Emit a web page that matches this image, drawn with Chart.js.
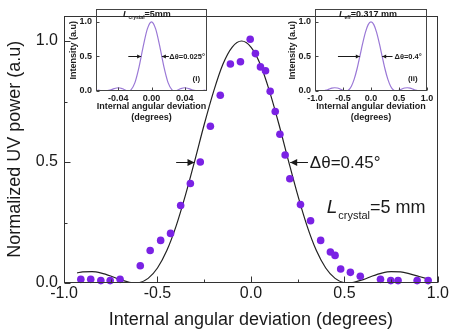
<!DOCTYPE html>
<html><head><meta charset="utf-8">
<script src="https://cdn.jsdelivr.net/npm/chart.js@4.4.1/dist/chart.umd.min.js"></script>
<style>
html,body{margin:0;padding:0;background:#fff;}
#wrap{position:relative;width:450px;height:333px;overflow:hidden;background:#fff;}
canvas{position:absolute;}
#main{left:0;top:0;}
#ins1{left:60px;top:0;}
#ins2{left:280px;top:0;}
</style></head><body>
<div id="wrap">
<canvas id="main" width="450" height="333"></canvas>
<canvas id="ins1" width="152" height="125"></canvas>
<canvas id="ins2" width="160" height="125"></canvas>
</div>
<script>
// ---------- data ----------
const measuredX = [-0.91,-0.857,-0.803,-0.753,-0.70,-0.592,-0.539,-0.483,-0.43,-0.376,-0.324,-0.271,-0.217,-0.164,-0.11,-0.056,-0.004,0.024,0.051,0.078,0.103,0.13,0.155,0.183,0.208,0.265,0.319,0.373,0.425,0.45,0.48,0.532,0.585,0.693,0.748,0.787,0.889,0.948];
const measuredY = [0.015,0.015,0.01,0.01,0.015,0.071,0.134,0.176,0.205,0.32,0.411,0.5,0.648,0.776,0.905,0.914,1.007,0.948,0.893,0.877,0.792,0.709,0.615,0.529,0.431,0.324,0.257,0.176,0.128,0.114,0.058,0.044,0.028,0.015,0.01,0.01,0.01,0.01];

const fitX = [-0.93,-0.9,-0.85,-0.8,-0.75,-0.7,-0.65,-0.62,-0.6,-0.55,-0.5,-0.45,-0.4,-0.35,-0.3,-0.25,-0.2,-0.15,-0.1,-0.05,0,0.05,0.1,0.15,0.2,0.25,0.3,0.35,0.4,0.45,0.5,0.52,0.55,0.6,0.65,0.7,0.75,0.8,0.85,0.9,0.95];
const fitY = [0.042,0.046,0.047,0.041,0.029,0.014,0.003,0,0.001,0.019,0.062,0.134,0.236,0.364,0.507,0.655,0.791,0.904,0.975,1.0,0.975,0.904,0.791,0.655,0.507,0.364,0.236,0.134,0.062,0.019,0.001,0,0.003,0.014,0.029,0.041,0.047,0.046,0.038,0.027,0.016];

const inset1X = [-0.065,-0.06,-0.056,-0.05,-0.045,-0.04,-0.035,-0.03,-0.028,-0.025,-0.02,-0.015,-0.01,-0.005,0,0.005,0.01,0.015,0.02,0.025,0.028,0.03,0.035,0.04,0.045,0.05,0.056,0.06,0.065];
const inset1Y = [0.014,0.004,0,0.012,0.035,0.047,0.032,0.004,0,0.014,0.121,0.349,0.645,0.899,1.0,0.899,0.645,0.349,0.121,0.014,0,0.004,0.032,0.047,0.035,0.012,0,0.004,0.014];

const inset2X = [-1.0,-0.95,-0.9,-0.85,-0.8,-0.75,-0.7,-0.65,-0.6,-0.55,-0.5,-0.45,-0.4,-0.35,-0.3,-0.25,-0.2,-0.15,-0.1,-0.05,0,0.05,0.1,0.15,0.2,0.25,0.3,0.35,0.4,0.45,0.5,0.55,0.6,0.65,0.7,0.75,0.8,0.85,0.9,0.95,1.0];
const inset2Y = [0.008,0.003,0,0.003,0.013,0.027,0.041,0.047,0.043,0.028,0.010,0,0.015,0.069,0.171,0.318,0.498,0.684,0.848,0.960,1.0,0.960,0.848,0.684,0.498,0.318,0.171,0.069,0.015,0,0.010,0.028,0.043,0.047,0.041,0.027,0.013,0.003,0,0.003,0.008];

const mainXTicks = [-1,-0.5,0,0.5,1];
const mainXLabels = ['-1.0','-0.5','0.0','0.5','1.0'];
const mainXMinor = [-0.75,-0.25,0.25,0.75];
const mainYTicks = [0,0.5,1];
const mainYLabels = ['0.0','0.5','1.0'];
const mainYMinor = [0.25,0.75];

const inset1XTicks = [-0.04,0,0.04];
const inset1XLabels = ['-0.04','0.00','0.04'];
const inset2XTicks = [-1,-0.5,0,0.5,1];
const inset2XLabels = ['-1.0','-0.5','0.0','0.5','1.0'];
const insetYTicks = [0,0.5,1];
const insetYLabels = ['0.0','0.5','1.0'];

// ---------- helpers ----------
const FONT = "'Liberation Sans', Arial, Helvetica, sans-serif";
const INK = '#1a1a1a';
const pts = (xs, ys) => xs.map((x, i) => ({x, y: ys[i]}));

function axis(o) {
  return {
    type: 'linear', min: o.min, max: o.max,
    afterBuildTicks: s => { s.ticks = o.ticks.map(v => ({value: v})); },
    afterFit: s => { if (o.h != null) s.height = o.h; if (o.w != null) s.width = o.w; },
    grid: {display: false, drawTicks: false},
    border: {display: false},
    ticks: {autoSkip: false, maxRotation: 0, minRotation: 0, padding: o.pad, color: INK, font: o.font,
      callback: v => o.labels[o.ticks.indexOf(v)]},
    title: {display: true, text: o.title, color: INK, font: o.tfont, padding: o.tpad}
  };
}

function arrow(ctx, x1, y, x2, head) {
  ctx.beginPath(); ctx.moveTo(x1, y); ctx.lineTo(x2, y); ctx.stroke();
  const d = Math.sign(x2 - x1);
  ctx.beginPath(); ctx.moveTo(x2, y);
  ctx.lineTo(x2 - d * head, y - head * 0.5);
  ctx.lineTo(x2 - d * head, y + head * 0.5);
  ctx.closePath(); ctx.fill();
}

const framePlugin = {
  id: 'frame',
  afterDatasetsDraw(chart, args, o) {
    const {ctx, chartArea: a, scales: {x, y}} = chart;
    ctx.save();
    ctx.strokeStyle = o.color; ctx.lineWidth = 1;
    const L = Math.round(a.left) + 0.5, R = Math.round(a.right) - 0.5;
    const T = Math.round(a.top) + 0.5, B = Math.round(a.bottom) - 0.5;
    ctx.strokeRect(L, T, R - L, B - T);
    ctx.beginPath();
    (o.xMajor || []).forEach(v => { const p = Math.round(x.getPixelForValue(v)) + 0.5; ctx.moveTo(p, B); ctx.lineTo(p, B - o.major); });
    (o.xMinor || []).forEach(v => { const p = Math.round(x.getPixelForValue(v)) + 0.5; ctx.moveTo(p, B); ctx.lineTo(p, B - o.minor); });
    (o.yMajor || []).forEach(v => { const p = Math.round(y.getPixelForValue(v)) + 0.5; ctx.moveTo(L, p); ctx.lineTo(L + o.major, p); });
    (o.yMinor || []).forEach(v => { const p = Math.round(y.getPixelForValue(v)) + 0.5; ctx.moveTo(L, p); ctx.lineTo(L + o.minor, p); });
    ctx.stroke();
    ctx.restore();
  }
};

const notesPlugin = {
  id: 'notes',
  afterDraw(chart, args, o) {
    const {ctx, scales: {x, y}} = chart;
    ctx.save();
    ctx.strokeStyle = INK; ctx.fillStyle = INK; ctx.lineWidth = 1;
    (o.arrows || []).forEach(a => {
      arrow(ctx, x.getPixelForValue(a.from), Math.round(y.getPixelForValue(a.y)) + 0.5, x.getPixelForValue(a.to), a.head);
    });
    (o.texts || []).forEach(t => {
      let px = x.getPixelForValue(t.x);
      const py = y.getPixelForValue(t.y);
      ctx.textBaseline = 'alphabetic';
      ctx.textAlign = 'left';
      t.parts.forEach(p => {
        ctx.font = p.font;
        ctx.fillText(p.t, px, py + (p.dy || 0));
        px += ctx.measureText(p.t).width + (p.gap || 0);
      });
    });
    ctx.restore();
  }
};

// ---------- main chart ----------
new Chart(document.getElementById('main'), {
  type: 'scatter',
  data: {datasets: [
    {data: pts(measuredX, measuredY), backgroundColor: '#7a22e4', borderColor: '#7a22e4',
     pointRadius: 3.8, pointBorderWidth: 0, clip: false},
    {data: pts(fitX, fitY), showLine: true, borderColor: '#222', borderWidth: 1.2,
     pointRadius: 0, cubicInterpolationMode: 'monotone', fill: false}
  ]},
  options: {
    responsive: false, animation: false, devicePixelRatio: 1,
    layout: {padding: {left: 0, right: 12, top: 4, bottom: 0}},
    plugins: {
      legend: {display: false}, tooltip: {enabled: false},
      frame: {color: '#333', major: 6, minor: 3, xMajor: mainXTicks, xMinor: mainXMinor, yMajor: mainYTicks, yMinor: mainYMinor},
      notes: {
        arrows: [
          {y: 0.5, from: -0.40, to: -0.302, head: 7},
          {y: 0.5, from: 0.305, to: 0.21, head: 7}
        ],
        texts: [
          {x: 0.315, y: 0.475, parts: [{t: 'Δθ=0.45°', font: `17px ${FONT}`}]},
          {x: 0.405, y: 0.29, parts: [
            {t: 'L', font: `italic 19px ${FONT}`, gap: 1},
            {t: 'crystal', font: `11px ${FONT}`, dy: 6},
            {t: '=5 mm', font: `18px ${FONT}`}
          ]}
        ]
      }
    },
    scales: {
      x: axis({min: -1, max: 1, ticks: mainXTicks, labels: mainXLabels, h: 50, pad: 1,
        font: {family: FONT, size: 16}, title: 'Internal angular deviation (degrees)',
        tfont: {family: FONT, size: 18}, tpad: {top: 0, bottom: 2}}),
      y: axis({min: 0, max: 1.105, ticks: mainYTicks, labels: mainYLabels, w: 64, pad: 6,
        font: {family: FONT, size: 16}, title: 'Normalized UV power (a.u)',
        tfont: {family: FONT, size: 18}, tpad: {top: 4, bottom: 0}})
    }
  },
  plugins: [framePlugin, notesPlugin]
});

// ---------- insets ----------
const IF = {family: FONT, size: 9, weight: 'bold'};
const INSET_LINE = '#9a78d6';

function inset(id, xs, ys, xo, padRight, yw, ytpad, notes) {
  new Chart(document.getElementById(id), {
    type: 'scatter',
    data: {datasets: [{data: pts(xs, ys), showLine: true, borderColor: INSET_LINE, borderWidth: 1.2,
      pointRadius: 0, cubicInterpolationMode: 'monotone'}]},
    options: {
      responsive: false, animation: false, devicePixelRatio: 1,
      layout: {padding: {left: 0, right: padRight, top: 9, bottom: 0}},
      plugins: {
        legend: {display: false}, tooltip: {enabled: false},
        frame: {color: '#444', major: 3, minor: 2, xMajor: xo.ticks, yMajor: insetYTicks},
        notes: notes
      },
      scales: {
        x: axis({min: xo.min, max: xo.max, ticks: xo.ticks, labels: xo.labels, h: 34, pad: 2,
          font: IF, title: ['Internal angular deviation', '(degrees)'],
          tfont: {family: FONT, size: 9, weight: 'bold', lineHeight: 1.33}, tpad: {top: 0, bottom: 1}}),
        y: axis({min: 0, max: 1.18, ticks: insetYTicks, labels: insetYLabels, w: yw, pad: 4,
          font: IF, title: 'Intensity (a.u)', tfont: IF, tpad: {top: ytpad, bottom: 0}})
      }
    },
    plugins: [framePlugin, notesPlugin]
  });
}

const BF = s => `bold ${s}px ${FONT}`;
inset('ins1', inset1X, inset1Y, {min: -0.067, max: 0.067, ticks: inset1XTicks, labels: inset1XLabels}, 5, 36, 8.5, {
  arrows: [
    {y: 0.5, from: -0.028, to: -0.0125, head: 4},
    {y: 0.5, from: 0.021, to: 0.0125, head: 4}
  ],
  texts: [
    {x: -0.0345, y: 1.065, parts: [
      {t: 'L', font: `italic ${BF(9)}`},
      {t: 'crystal', font: BF(5)  , dy: 2},
      {t: '=5mm', font: BF(9)}
    ]},
    {x: 0.0215, y: 0.465, parts: [{t: 'Δθ=0.025°', font: BF(7.5)}]},
    {x: 0.0495, y: 0.14, parts: [{t: '(i)', font: BF(8)}]}
  ]
});
inset('ins2', inset2X, inset2Y, {min: -1, max: 1, ticks: inset2XTicks, labels: inset2XLabels}, 13, 35, 7.5, {
  arrows: [
    {y: 0.5, from: -0.59, to: -0.2, head: 4},
    {y: 0.5, from: 0.385, to: 0.2, head: 4}
  ],
  texts: [
    {x: -0.57, y: 1.065, parts: [
      {t: 'L', font: `italic ${BF(9)}`},
      {t: 'eff', font: BF(5), dy: 2},
      {t: '=0.317 mm', font: BF(9)}
    ]},
    {x: 0.42, y: 0.465, parts: [{t: 'Δθ=0.4°', font: BF(7.5)}]},
    {x: 0.66, y: 0.14, parts: [{t: '(ii)', font: BF(8)}]}
  ]
});
</script>
</body></html>
